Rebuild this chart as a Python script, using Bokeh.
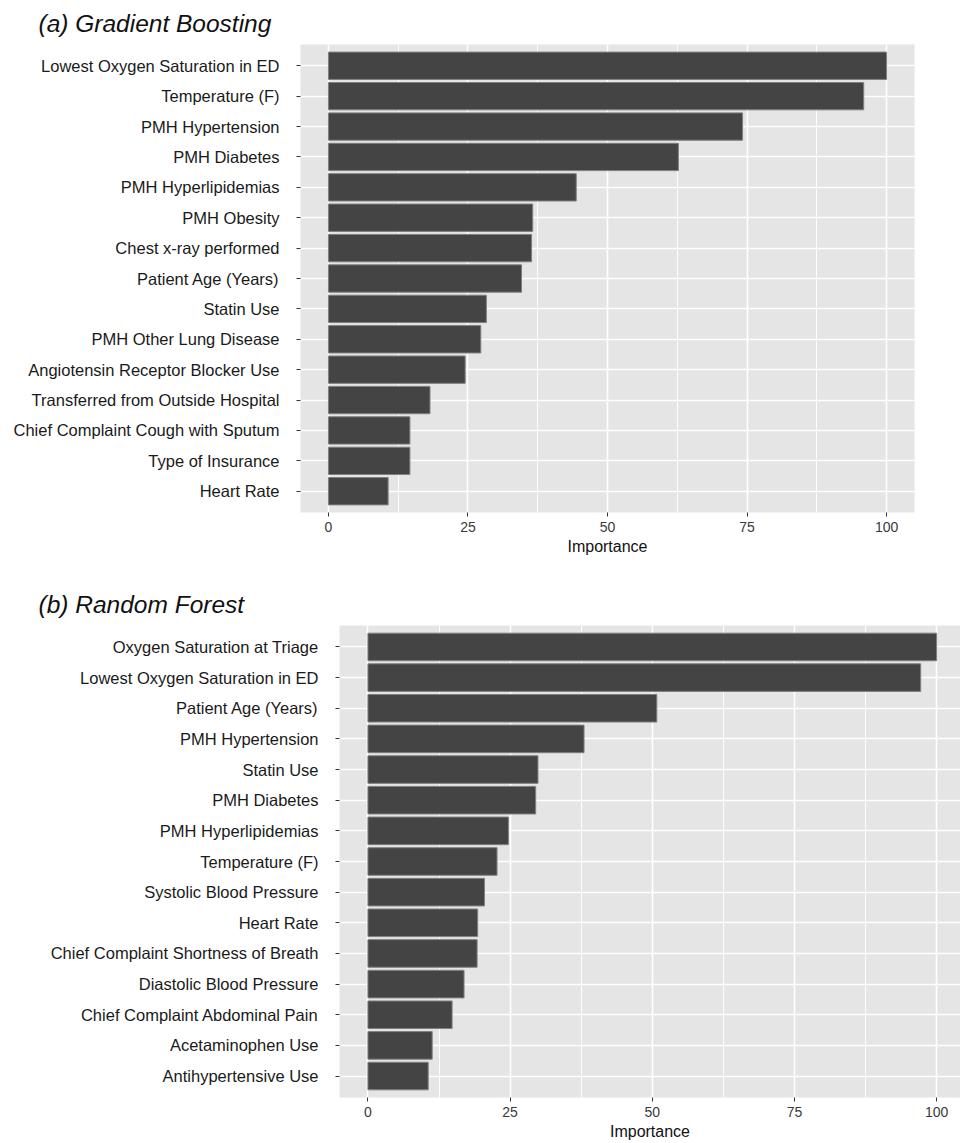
from bokeh.plotting import figure
from bokeh.models import FactorRange, Range1d, FixedTicker, ColumnDataSource
from bokeh.embed import file_html
from bokeh.resources import INLINE

gb_features = ["Lowest Oxygen Saturation in ED", "Temperature (F)", "PMH Hypertension",
               "PMH Diabetes", "PMH Hyperlipidemias", "PMH Obesity", "Chest x-ray performed",
               "Patient Age (Years)", "Statin Use", "PMH Other Lung Disease",
               "Angiotensin Receptor Blocker Use", "Transferred from Outside Hospital",
               "Chief Complaint Cough with Sputum", "Type of Insurance", "Heart Rate"]
gb_importance = [100, 95.9, 74.2, 62.7, 44.4, 36.6, 36.4, 34.6, 28.3, 27.3, 24.5, 18.2, 14.6, 14.6, 10.7]

rf_features = ["Oxygen Saturation at Triage", "Lowest Oxygen Saturation in ED", "Patient Age (Years)",
               "PMH Hypertension", "Statin Use", "PMH Diabetes", "PMH Hyperlipidemias",
               "Temperature (F)", "Systolic Blood Pressure", "Heart Rate",
               "Chief Complaint Shortness of Breath", "Diastolic Blood Pressure",
               "Chief Complaint Abdominal Pain", "Acetaminophen Use", "Antihypertensive Use"]
rf_importance = [100, 97.2, 50.8, 38.0, 29.9, 29.5, 24.7, 22.7, 20.5, 19.3, 19.2, 16.9, 14.8, 11.3, 10.6]

x_ticks = [0, 25, 50, 75, 100]
x_minor = [12.5, 37.5, 62.5, 87.5]
x_label = "Importance"
titles = ["(a)  Gradient Boosting", "(b)  Random Forest"]

SANS = "Liberation Sans"


def panel(features, importance, title, width, height, mb, x_end, title_offset):
    src = ColumnDataSource(dict(feature=features, importance=importance))
    p = figure(width=width, height=height,
               y_range=FactorRange(factors=features[::-1], range_padding=0.2,
                                   range_padding_units="absolute"),
               x_range=Range1d(-5, x_end),
               output_backend="svg", toolbar_location=None,
               min_border_left=mb[0], min_border_right=mb[1],
               min_border_top=mb[2], min_border_bottom=mb[3])
    p.background_fill_color = "#E5E5E5"
    p.border_fill_color = "white"
    p.outline_line_color = None

    p.title.text = title
    p.title.align = "left"
    p.title.offset = title_offset
    p.title.text_font = SANS
    p.title.text_font_size = "24.5px"
    p.title.text_font_style = "italic"
    p.title.text_color = "#111111"
    p.title.standoff = 15

    p.hbar(y="feature", right="importance", left=0, height=0.9, source=src,
           fill_color="#444444", line_color="#808080", line_width=1)

    p.xaxis.ticker = FixedTicker(ticks=x_ticks, minor_ticks=x_minor)
    p.xaxis.axis_label = x_label
    p.xaxis.axis_label_text_font = SANS
    p.xaxis.axis_label_text_font_size = "16px"
    p.xaxis.axis_label_text_font_style = "normal"
    p.xaxis.axis_label_text_color = "#111111"
    p.xaxis.axis_label_standoff = 3
    p.xaxis.major_label_text_font = SANS
    p.xaxis.major_label_text_font_size = "14px"
    p.xaxis.major_label_text_color = "#3a3a3a"
    p.xaxis.major_label_standoff = 5

    p.yaxis.major_label_text_font = SANS
    p.yaxis.major_label_text_font_size = "16.5px"
    p.yaxis.major_label_text_color = "#1a1a1a"
    p.yaxis.major_label_standoff = 17

    for ax in (p.xaxis, p.yaxis):
        ax.axis_line_color = None
        ax.major_tick_line_color = "#333333"
        ax.major_tick_line_width = 1
        ax.major_tick_in = 0
        ax.major_tick_out = 4
        ax.minor_tick_line_color = None

    p.xgrid.grid_line_color = "white"
    p.xgrid.grid_line_width = 1.6
    p.xgrid.minor_grid_line_color = "white"
    p.xgrid.minor_grid_line_width = 0.9
    p.ygrid.grid_line_color = "white"
    p.ygrid.grid_line_width = 1.6
    return p


pa = panel(gb_features, gb_importance, titles[0], 960, 562, (300, 46, 43, 50), 105, -262)
pb = panel(rf_features, rf_importance, titles[1], 960, 581, (339, 0, 63, 46), 104.2, -301)

open("out.html", "w").write(file_html([pa, pb], INLINE))
